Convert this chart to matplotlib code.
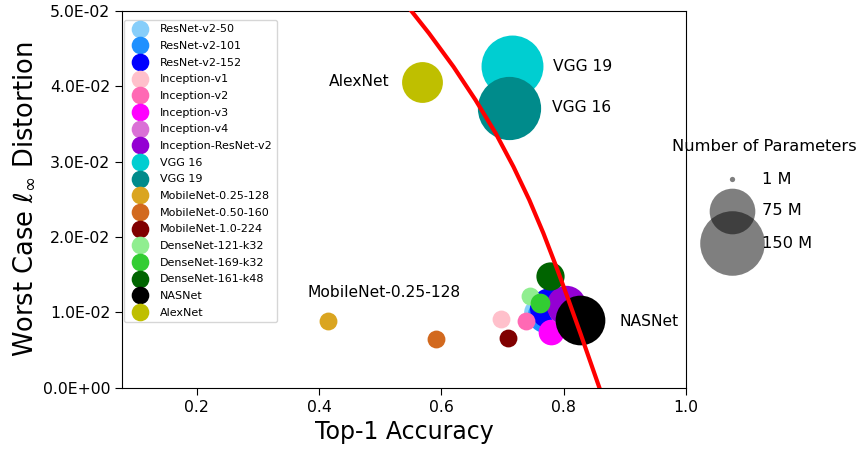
import numpy as np
import matplotlib
matplotlib.use("Agg")
import matplotlib.pyplot as plt
from matplotlib.lines import Line2D
from matplotlib.ticker import FormatStrFormatter

# ---------------- data ----------------
models = ["ResNet-v2-50", "ResNet-v2-101", "ResNet-v2-152",
          "Inception-v1", "Inception-v2", "Inception-v3", "Inception-v4",
          "Inception-ResNet-v2", "VGG 16", "VGG 19",
          "MobileNet-0.25-128", "MobileNet-0.50-160", "MobileNet-1.0-224",
          "DenseNet-121-k32", "DenseNet-169-k32", "DenseNet-161-k48",
          "NASNet", "AlexNet"]
top1_accuracy = [0.756, 0.770, 0.778,
                 0.698, 0.739, 0.780, 0.802,
                 0.804, 0.716, 0.711,
                 0.415, 0.591, 0.709,
                 0.745, 0.761, 0.777,
                 0.827, 0.569]
distortion = [0.0100, 0.0096, 0.0106,
              0.0091, 0.0089, 0.0074, 0.0106,
              0.0110, 0.0426, 0.0371,
              0.0088, 0.0064, 0.0066,
              0.0122, 0.0112, 0.0148,
              0.0090, 0.0406]
params_millions = [25.6, 44.5, 60.2,
                   6.6, 11.2, 23.8, 42.7,
                   55.8, 138.0, 144.0,
                   0.47, 1.34, 4.2,
                   8.0, 14.0, 28.7,
                   88.9, 60.0]
colors = ["lightskyblue", "dodgerblue", "blue",
          "pink", "hotpink", "magenta", "orchid",
          "darkviolet", "darkturquoise", "darkcyan",
          "goldenrod", "chocolate", "maroon",
          "lightgreen", "limegreen", "darkgreen",
          "black", "y"]

# text annotations placed next to points: (label, point it belongs to)
annotations = [("AlexNet", "AlexNet"), ("VGG 19", "VGG 16"), ("VGG 16", "VGG 19"),
               ("MobileNet-0.25-128", "MobileNet-0.25-128"), ("NASNet", "NASNet")]

# trade-off curve, points
curve_accuracy = [0.5195, 0.5507, 0.5799, 0.6199, 0.6559, 0.6889, 0.7179,
                  0.7439, 0.7669, 0.7879, 0.8079, 0.8274, 0.8464, 0.8584, 0.8670]
curve_distortion = [0.0530, 0.0500, 0.0470, 0.04257, 0.03816, 0.03374, 0.02931,
                    0.02489, 0.02048, 0.01605, 0.01163, 0.00721, 0.00279, 0.0, -0.0020]

size_legend_values = [1, 75, 150]
size_legend_labels = ["1 M", "75 M", "150 M"]

x_ticks = [0.2, 0.4, 0.6, 0.8, 1.0]
y_ticks = [0.0, 0.01, 0.02, 0.03, 0.04, 0.05]

# ---------------- plot ----------------
SCALE = 14.4   # marker area (pt^2) per million parameters
MIN_S = 165

fig = plt.figure(figsize=(8.6, 4.51), dpi=100)
ax = fig.add_axes([122 / 860, 1 - 387.7 / 451, 564 / 860, 377 / 451])

sizes = np.maximum(np.array(params_millions) * SCALE, MIN_S)
for i, m in enumerate(models):
    ax.scatter(top1_accuracy[i], distortion[i], s=sizes[i], color=colors[i],
               linewidths=0, zorder=2)

ax.plot(curve_accuracy, curve_distortion, color="red", lw=3, zorder=5,
        solid_joinstyle="round")

offsets = {"AlexNet": (-24, 0, "right"), "VGG 19": (29, 0, "left"),
           "VGG 16": (31, 0, "left"), "MobileNet-0.25-128": (-15, 21, "left"),
           "NASNet": (28, -1, "left")}
for label, pname in annotations:
    i = models.index(pname)
    dx, dy, ha = offsets[label]
    ax.annotate(label, (top1_accuracy[i], distortion[i]), xytext=(dx, dy),
                textcoords="offset points", ha=ha, va="center", fontsize=11.2)

ax.set_xlim(0.078, 1.0)
ax.set_ylim(0.0, 0.05)
ax.set_xticks(x_ticks)
ax.set_yticks(y_ticks)
ax.yaxis.set_major_formatter(FormatStrFormatter("%.1E"))
ax.tick_params(labelsize=11.3, length=5)
ax.set_xlabel("Top-1 Accuracy", fontsize=17)
ax.set_ylabel(r"Worst Case $\ell_\infty$ Distortion", fontsize=18.5)

handles = [Line2D([], [], marker="o", linestyle="", markersize=12.7,
                  markeredgewidth=0, color=c) for c in colors]
ax.legend(handles, models, loc="upper left", bbox_to_anchor=(0.0035, 0.9753),
          borderaxespad=0, fontsize=8, labelspacing=0.6, framealpha=0.8)

# size legend (manual, in figure coordinates)
fig.text(764 / 860, 1 - 146.7 / 451, "Number of Parameters", ha="center",
         va="center", fontsize=11.7)
row_y = [179, 211, 243]
for v, lab, yy in zip(size_legend_values, size_legend_labels, row_y):
    ax.scatter([731.7 / 860], [1 - yy / 451], s=v * SCALE, color="black",
               alpha=0.5, linewidths=0, transform=fig.transFigure, clip_on=False)
    fig.text(762 / 860, 1 - yy / 451, lab, ha="left", va="center", fontsize=11.7)

fig.savefig("out.png", dpi=100)
